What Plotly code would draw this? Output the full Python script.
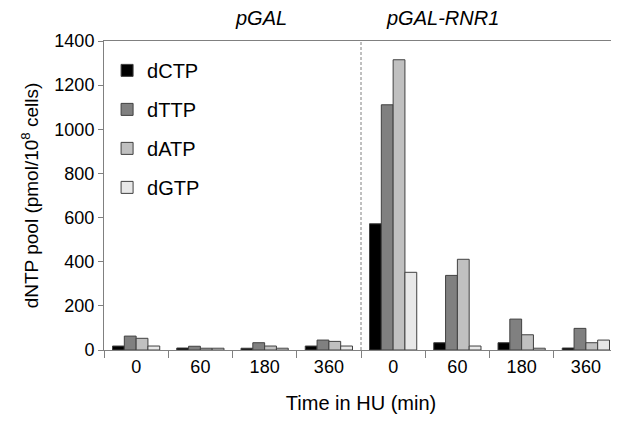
import plotly.graph_objects as go

categories = ["pGAL 0", "pGAL 60", "pGAL 180", "pGAL 360",
              "RNR1 0", "RNR1 60", "RNR1 180", "RNR1 360"]
time_labels = ["0", "60", "180", "360", "0", "60", "180", "360"]
dCTP = [18, 9, 8, 18, 572, 33, 33, 9]
dTTP = [63, 17, 33, 45, 1111, 338, 140, 98]
dATP = [53, 8, 18, 39, 1315, 411, 69, 33]
dGTP = [18, 8, 8, 18, 352, 18, 8, 45]
series = [("dCTP", dCTP, "#000000"), ("dTTP", dTTP, "#808080"),
          ("dATP", dATP, "#c0c0c0"), ("dGTP", dGTP, "#e8e8e8")]
group_titles = ["pGAL", "pGAL-RNR1"]

FONT = "Arial, Liberation Sans, sans-serif"

fig = go.Figure()
for name, vals, col in series:
    fig.add_trace(go.Bar(x=categories, y=vals, name=name, marker_color=col,
                         marker_line_color="#404040", marker_line_width=1,
                         legendgroup=name))

# page body has an 8px margin; compensate so the plot lands where the reference has it
fig.update_layout(
    width=611, height=415,
    margin=dict(l=96, r=1, t=33, b=73),
    paper_bgcolor="white", plot_bgcolor="white",
    font=dict(family=FONT, size=18, color="black"),
    barmode="group", bargap=0.265, bargroupgap=0,
    showlegend=True,
    legend=dict(x=0.006, y=0.968, xanchor="left", yanchor="top",
                font=dict(size=20), traceorder="grouped", tracegroupgap=10,
                bgcolor="rgba(0,0,0,0)", itemwidth=30),
)
fig.update_xaxes(type="category", tickvals=categories, ticktext=time_labels,
                 tickson="boundaries", ticks="outside", ticklen=7,
                 tickcolor="#808080", showline=True, linecolor="#808080",
                 linewidth=1, mirror=True, showgrid=False,
                 tickfont=dict(size=18),
                 title=dict(text="Time in HU (min)", font=dict(size=20), standoff=20))
fig.update_yaxes(range=[0, 1400], dtick=200, ticks="outside", ticklen=5,
                 tickcolor="#808080", showline=True, linecolor="#808080",
                 linewidth=1, mirror=True, showgrid=False, zeroline=False,
                 tickfont=dict(size=18),
                 title=dict(text="dNTP pool (pmol/10<sup>8</sup> cells)",
                            font=dict(size=19), standoff=10))
fig.add_shape(type="line", xref="x", yref="paper", x0=3.5, x1=3.5, y0=0, y1=1,
              line=dict(color="#808080", width=1, dash="3px,2px"))
fig.add_annotation(text="<i>" + group_titles[0] + "</i>", xref="paper", yref="paper",
                   x=(233 - 104) / 514, y=1, yshift=23, showarrow=False,
                   font=dict(size=20), yanchor="middle")
fig.add_annotation(text="<i>" + group_titles[1] + "</i>", xref="paper", yref="paper",
                   x=(501 - 104) / 514, y=1, yshift=23, showarrow=False,
                   font=dict(size=20), yanchor="middle")
fig.write_html("out.html")
